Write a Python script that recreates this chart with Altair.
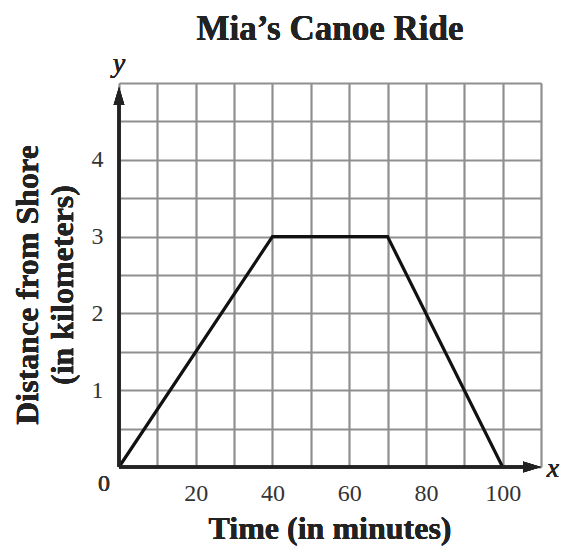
import altair as alt
import pandas as pd

# Data
time_min = [0, 40, 70, 100]
distance_km = [0, 3, 3, 0]
x_grid = [0, 10, 20, 30, 40, 50, 60, 70, 80, 90, 100, 110]
y_grid = [0, 0.5, 1, 1.5, 2, 2.5, 3, 3.5, 4, 4.5, 5]
x_labels = [20, 40, 60, 80, 100]
y_labels = [1, 2, 3, 4]

title_text = "Mia’s Canoe Ride"
x_title = "Time (in minutes)"
y_title_1 = "Distance from Shore"
y_title_2 = "(in kilometers)"

df = pd.DataFrame({"t": time_min, "d": distance_km})

W, H = 422, 384
FONT = "Liberation Serif"
GRID = "#8f8f8f"

xs = alt.Scale(domain=[0, 110], nice=False, zero=False)
ys = alt.Scale(domain=[0, 5], nice=False, zero=False)

x_axis = alt.Axis(
    values=x_grid, grid=True, gridColor=GRID, gridWidth=2.2, gridOpacity=1,
    domain=False, ticks=False, title=None,
    labelExpr=f"indexof({x_labels}, datum.value) >= 0 ? '' + datum.value : ''",
    labelFont=FONT, labelFontSize=24, labelColor="#333", labelPadding=14,
    labelFlush=False, labelOverlap=False,
)
y_axis = alt.Axis(
    values=y_grid, grid=True, gridColor=GRID, gridWidth=2.2, gridOpacity=1,
    domain=False, ticks=False, title=None,
    labelExpr=f"indexof({y_labels}, datum.value) >= 0 ? '' + datum.value : ''",
    labelFont=FONT, labelFontSize=24, labelColor="#333", labelPadding=16,
    labelFlush=False, labelOverlap=False,
)

base = alt.Chart(df)

line = base.mark_line(color="#111", strokeWidth=3.2, strokeJoin="miter").encode(
    x=alt.X("t:Q", scale=xs, axis=x_axis),
    y=alt.Y("d:Q", scale=ys, axis=y_axis),
)

AX = "#222"
x_rule = base.mark_rule(color=AX, strokeWidth=3).encode(
    x=alt.value(0), x2=alt.value(W - 8), y=alt.value(H)
)
y_rule = base.mark_rule(color=AX, strokeWidth=3).encode(
    y=alt.value(H), y2=alt.value(10), x=alt.value(0)
)
up_arrow = base.mark_point(
    shape="M0,-1 L0.6,1 L-0.6,1 Z", size=324, filled=True, color=AX, opacity=1
).encode(x=alt.value(0), y=alt.value(13))
right_arrow = base.mark_point(
    shape="M1,0 L-1,0.6 L-1,-0.6 Z", size=324, filled=True, color=AX, opacity=1
).encode(x=alt.value(W - 9), y=alt.value(H))


def txt(s, x, y, size, bold=True, italic=False, angle=0, color="#222",
        baseline="middle"):
    kw = dict(text=s, font=FONT, fontSize=size, color=color,
              baseline=baseline, align="center")
    if bold:
        kw["fontWeight"] = "bold"
    if italic:
        kw["fontStyle"] = "italic"
    if angle:
        kw["angle"] = angle
    return base.mark_text(**kw).encode(x=alt.value(x), y=alt.value(y))


title = txt(title_text, 211, -43, 35, baseline="alphabetic")
xt = txt(x_title, 211, 456, 32, baseline="alphabetic")
yt1 = txt(y_title_1, -91, 202, 32, angle=270)
yt2 = txt(y_title_2, -56, 202, 32, angle=270)
y_lab = txt("y", 0, -19, 28, bold=False, italic=True)
x_lab = txt("x", 434, H + 2, 28, bold=False, italic=True)
zero = txt("0", -15, H + 17, 24, bold=False, color="#333")

chart = alt.layer(
    line, x_rule, y_rule, up_arrow, right_arrow,
    title, xt, yt1, yt2, y_lab, x_lab, zero,
).properties(
    width=W, height=H,
    autosize=alt.AutoSizeParams(type="none"),
    padding={"left": 111, "top": 75, "right": 19, "bottom": 82},
).configure_view(stroke=None).configure(background="white")

chart.save("out.html", embed_options={"renderer": "svg", "actions": False})
